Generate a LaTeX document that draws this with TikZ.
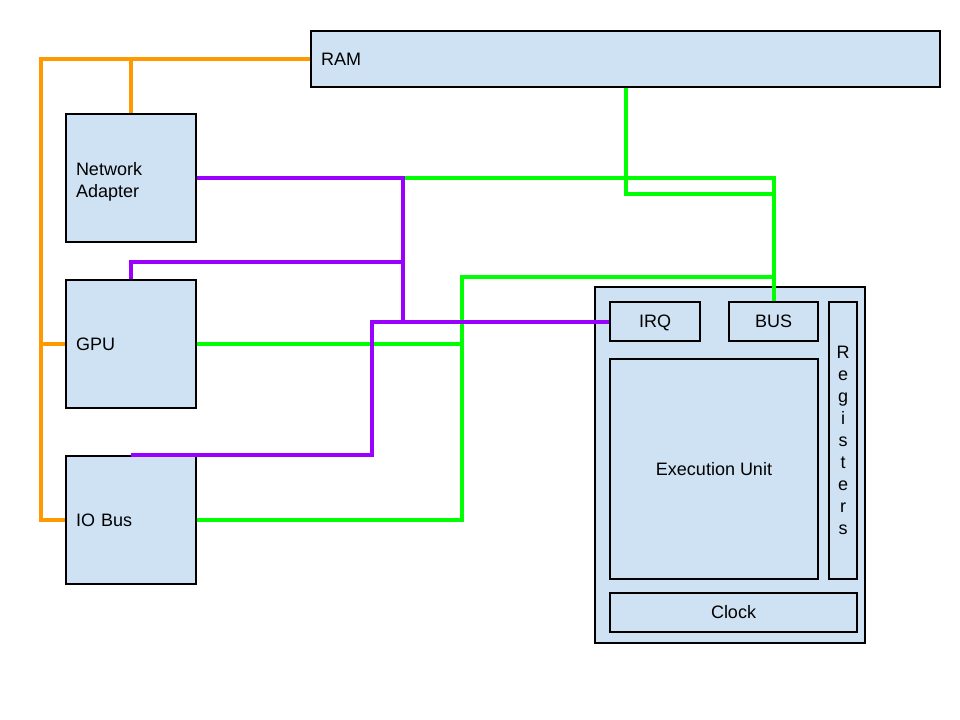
\documentclass[tikz,border=0pt]{standalone}
\usepackage{fontspec}
\setmainfont{Liberation Sans}
\definecolor{boxfill}{HTML}{CFE2F3}
\definecolor{wor}{HTML}{FF9900}
\definecolor{wpu}{HTML}{9900FF}
\definecolor{wgr}{HTML}{00FF00}
\begin{document}
\begin{tikzpicture}[x=0.75pt,y=-0.75pt,
  box/.style={draw=black,fill=boxfill,line width=0.8pt,inner sep=0pt,font=\fontsize{13.5}{16.5}\selectfont},
  lbox/.style={box,inner xsep=7.5pt,align=left},
  orw/.style={draw=wor,line width=3pt},
  puw/.style={draw=wpu,line width=3pt},
  grw/.style={draw=wgr,line width=3pt}]
\useasboundingbox (0,0) rectangle (960,720);
% boxes
\node[lbox,minimum width=471.75pt,minimum height=42pt,text width=456.75pt] (ram) at (625.5,59) {RAM};
\node[lbox,minimum width=97.5pt,minimum height=96pt,text width=82.5pt] (na) at (131,178) {\rule{0pt}{15pt}Network\\Adapter};
\node[lbox,minimum width=97.5pt,minimum height=96pt,text width=82.5pt] (gpu) at (131,344) {GPU};
\node[lbox,minimum width=97.5pt,minimum height=96pt,text width=82.5pt] (io) at (131,520) {IO Bus};
\node[box,minimum width=202.5pt,minimum height=267pt] (cpu) at (730,465) {};
\node[box,minimum width=67.5pt,minimum height=29.25pt,text depth=0pt] (irq) at (655,321.5) {IRQ};
\node[box,minimum width=66.75pt,minimum height=29.25pt] (bus) at (773.5,321.5) {BUS};
\node[box,minimum width=21pt,minimum height=207.75pt,align=center,font=\fontsize{13.5}{16.5}\selectfont] (reg) at (843,440.5) {R\\e\\g\\i\\s\\t\\e\\r\\s};
\node[box,minimum width=156pt,minimum height=165pt] (exu) at (714,469) {Execution Unit};
\node[box,minimum width=185.25pt,minimum height=29.25pt] (clk) at (733.5,612.5) {Clock};
% junction coordinates
\coordinate (oc) at (41,59);
\coordinate (pj) at (403,321.5);
\coordinate (pg) at (403,262);
\coordinate (pi) at (372,321.5);
\coordinate (gb) at (773,194);
\coordinate (gm) at (462,277);
% orange
\draw[orw,line join=miter] (ram.west) -- (oc) |- (io.west);
\draw[orw] (oc |- gpu.west) -- (gpu.west);
\draw[orw] (na.north) -- (na.north |- ram.west);
% green
\draw[grw] (ram.south) |- (gb);
\draw[grw] (pj |- na.east) -| (bus.north);
\draw[grw] (io.east) -| (gm) -- (gm -| bus.north);
\draw[grw] (gpu.east) -- (gpu.east -| gm);
% purple
\draw[puw] (na.east) -| (pj) -- (irq.west);
\draw[puw] (gpu.north) |- (pg);
\draw[puw] (io.north) -| (pi) -- (pj);
\end{tikzpicture}
\end{document}
